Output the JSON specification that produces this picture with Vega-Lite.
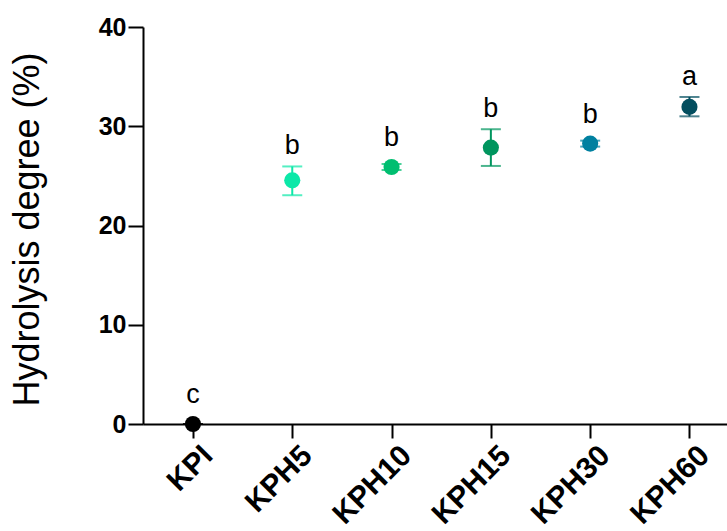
{
  "$schema": "https://vega.github.io/schema/vega-lite/v6.json",
  "width": 584,
  "height": 397,
  "autosize": {"type": "none"},
  "padding": {"left": 143, "top": 27, "right": 0, "bottom": 107},
  "background": "white",
  "config": {
    "view": {"stroke": null},
    "font": "Liberation Sans"
  },
  "data": {
    "values": [
      {"group": "KPI", "mean": 0, "lo": 0, "hi": 0, "letter": "c"},
      {"group": "KPH5", "mean": 24.55, "lo": 23.05, "hi": 25.95, "letter": "b"},
      {"group": "KPH10", "mean": 25.9, "lo": 25.6, "hi": 26.2, "letter": "b"},
      {"group": "KPH15", "mean": 27.85, "lo": 26.0, "hi": 29.7, "letter": "b"},
      {"group": "KPH30", "mean": 28.25, "lo": 27.95, "hi": 28.55, "letter": "b"},
      {"group": "KPH60", "mean": 31.95, "lo": 31.0, "hi": 32.95, "letter": "a"}
    ]
  },
  "transform": [
    {"calculate": "max(datum.hi, datum.mean + 0.9)", "as": "labelPos"}
  ],
  "encoding": {
    "x": {
      "field": "group",
      "type": "nominal",
      "sort": null,
      "scale": {"type": "point", "padding": 0.4405, "align": 0.571},
      "axis": {
        "title": null,
        "labelAngle": -45,
        "labelFont": "Liberation Sans",
        "labelFontWeight": "bold",
        "labelFontSize": 30,
        "labelColor": "black",
        "labelPadding": 2,
        "labelOffset": 4,
        "tickSize": 14,
        "tickWidth": 2,
        "tickColor": "black",
        "domainColor": "black",
        "domainWidth": 2,
        "grid": false
      }
    },
    "color": {
      "field": "group",
      "type": "nominal",
      "legend": null,
      "scale": {
        "domain": ["KPI", "KPH5", "KPH10", "KPH15", "KPH30", "KPH60"],
        "range": ["#000000", "#0BE8A8", "#00BE70", "#00955E", "#0080A0", "#034E5F"]
      }
    }
  },
  "layer": [
    {
      "mark": {"type": "rule", "strokeWidth": 2},
      "encoding": {
        "y": {
          "field": "lo",
          "type": "quantitative",
          "scale": {"domain": [0, 40], "nice": false},
          "axis": {
            "title": "Hydrolysis degree (%)",
            "titleFont": "Liberation Sans",
            "titleFontSize": 36,
            "titleFontWeight": "normal",
            "titleColor": "black",
            "titleAngle": -90,
            "titleX": -105,
            "titleY": 202,
            "titleAlign": "center",
            "titleBaseline": "alphabetic",
            "values": [0, 10, 20, 30, 40],
            "labelFont": "Liberation Sans",
            "labelFontWeight": "bold",
            "labelFontSize": 25,
            "labelColor": "black",
            "labelPadding": 2,
            "tickSize": 15,
            "tickWidth": 2,
            "tickColor": "black",
            "domainColor": "black",
            "domainWidth": 2,
            "grid": false
          }
        },
        "y2": {"field": "hi"}
      }
    },
    {
      "mark": {"type": "tick", "orient": "horizontal", "size": 20, "thickness": 2},
      "encoding": {"y": {"field": "lo", "type": "quantitative"}}
    },
    {
      "mark": {"type": "tick", "orient": "horizontal", "size": 20, "thickness": 2},
      "encoding": {"y": {"field": "hi", "type": "quantitative"}}
    },
    {
      "mark": {"type": "point", "shape": "circle", "filled": true, "opacity": 1, "size": 260},
      "encoding": {"y": {"field": "mean", "type": "quantitative"}}
    },
    {
      "mark": {"type": "text", "font": "Liberation Sans", "fontSize": 27, "baseline": "alphabetic", "dy": -12, "color": "black"},
      "encoding": {
        "y": {"field": "labelPos", "type": "quantitative"},
        "text": {"field": "letter"},
        "color": {"value": "black"}
      }
    }
  ]
}
